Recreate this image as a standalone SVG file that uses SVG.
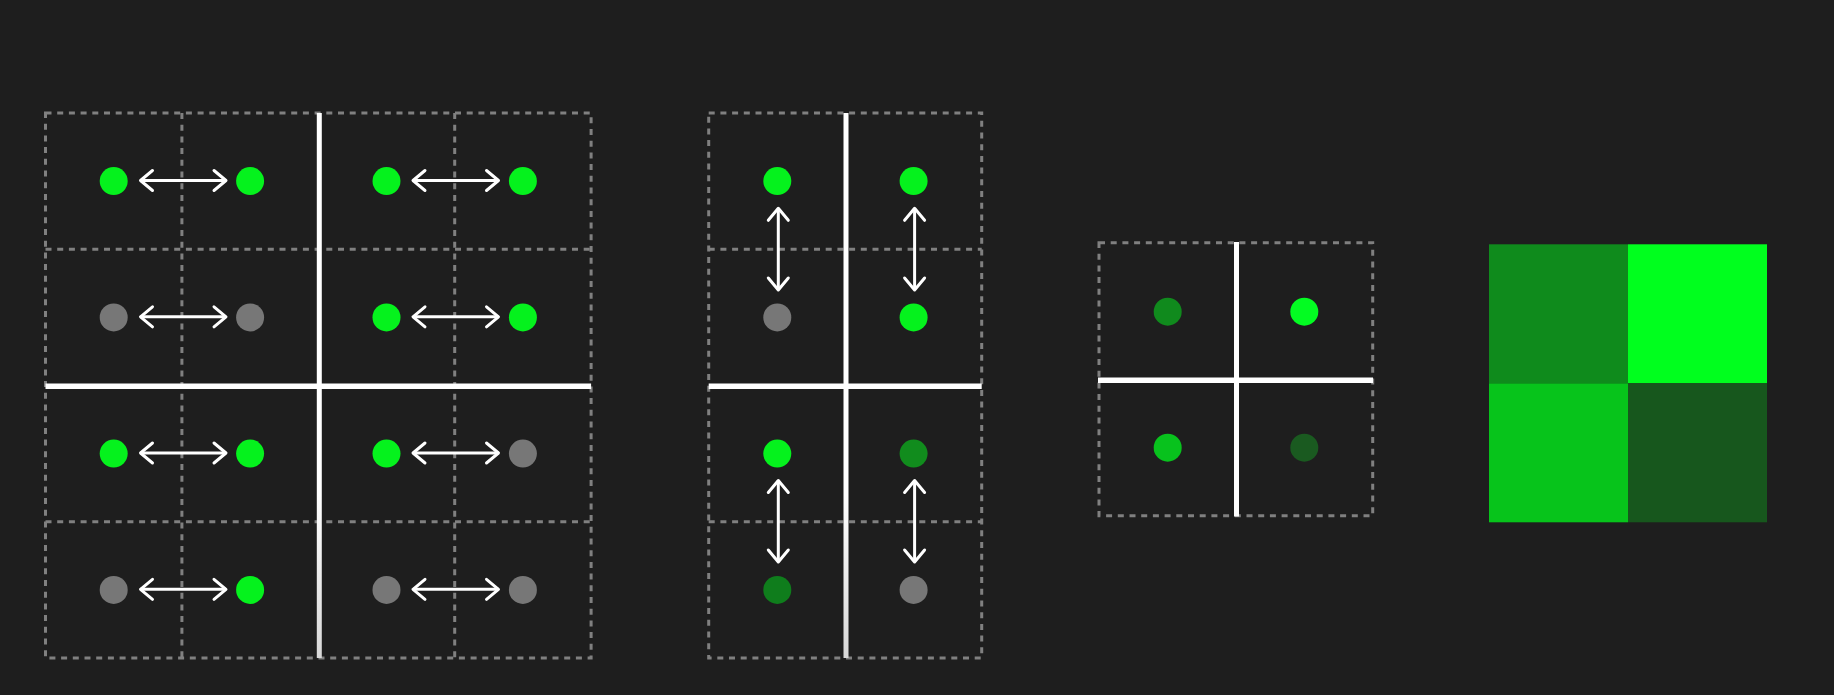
<svg xmlns="http://www.w3.org/2000/svg" width="1834" height="695" viewBox="0 0 1834 695">
  <defs>
    <style>
      .grid { fill: none; stroke: #808080; stroke-width: 3; stroke-dasharray: 6 5.7; }
      .wall { stroke: url(#wallGrad); stroke-width: 5; }
      .wall3 { stroke: #ffffff; stroke-width: 5; }
      .wallh { stroke: #ffffff; stroke-width: 5.5; }
      .arrow { stroke: #ffffff; stroke-width: 3; fill: none; marker-start: url(#chev); marker-end: url(#chev); }
      .g { fill: #05f21d; }
      .x { fill: #777777; }
      .m { fill: #118c1d; }
      .d { fill: #0f7d1c; }
    </style>
    <linearGradient id="wallGrad" gradientUnits="userSpaceOnUse" x1="0" y1="113" x2="0" y2="658">
      <stop offset="0" stop-color="#ffffff"/>
      <stop offset="0.7" stop-color="#ffffff"/>
      <stop offset="1" stop-color="#d8d8d8"/>
    </linearGradient>
    <marker id="chev" viewBox="-15 -13 18 26" refX="0" refY="0" markerWidth="18" markerHeight="26" markerUnits="userSpaceOnUse" orient="auto-start-reverse">
      <path d="M-12,-10 L0,0 L-12,10" fill="none" stroke="#ffffff" stroke-width="3" stroke-linecap="round" stroke-linejoin="round"/>
    </marker>
  </defs>
  <rect x="0" y="0" width="1834" height="695" fill="#1e1e1e"/>

  <!-- Panel 1: 4x4 grid -->
  <g id="panel-4x4">
    <rect class="grid" x="45.5" y="113" width="545.6" height="545"/>
    <line class="grid" x1="181.9" y1="113" x2="181.9" y2="658"/>
    <line class="grid" x1="454.7" y1="113" x2="454.7" y2="658"/>
    <line class="grid" x1="45.5" y1="249.3" x2="591.1" y2="249.3"/>
    <line class="grid" x1="45.5" y1="521.8" x2="591.1" y2="521.8"/>
    <line class="wall" x1="319.3" y1="113" x2="319.3" y2="658"/>
    <line class="wallh" x1="45.5" y1="386.3" x2="591.1" y2="386.3"/>
    <g id="p1-dots">
      <circle id="p1-r1c1" class="g" cx="113.7" cy="181.1" r="14"/>
      <circle id="p1-r1c2" class="g" cx="250.1" cy="181.1" r="14"/>
      <circle id="p1-r1c3" class="g" cx="386.5" cy="181.1" r="14"/>
      <circle id="p1-r1c4" class="g" cx="522.9" cy="181.1" r="14"/>
      <circle id="p1-r2c1" class="x" cx="113.7" cy="317.4" r="14"/>
      <circle id="p1-r2c2" class="x" cx="250.1" cy="317.4" r="14"/>
      <circle id="p1-r2c3" class="g" cx="386.5" cy="317.4" r="14"/>
      <circle id="p1-r2c4" class="g" cx="522.9" cy="317.4" r="14"/>
      <circle id="p1-r3c1" class="g" cx="113.7" cy="453.6" r="14"/>
      <circle id="p1-r3c2" class="g" cx="250.1" cy="453.6" r="14"/>
      <circle id="p1-r3c3" class="g" cx="386.5" cy="453.6" r="14"/>
      <circle id="p1-r3c4" class="x" cx="522.9" cy="453.6" r="14"/>
      <circle id="p1-r4c1" class="x" cx="113.7" cy="589.9" r="14"/>
      <circle id="p1-r4c2" class="g" cx="250.1" cy="589.9" r="14"/>
      <circle id="p1-r4c3" class="x" cx="386.5" cy="589.9" r="14"/>
      <circle id="p1-r4c4" class="x" cx="522.9" cy="589.9" r="14"/>
    </g>
  </g>

  <!-- Panel 2: 2 columns x 4 rows -->
  <g id="panel-2x4">
    <rect class="grid" x="708.7" y="113" width="273" height="545"/>
    <line class="grid" x1="708.7" y1="249.3" x2="981.7" y2="249.3"/>
    <line class="grid" x1="708.7" y1="521.8" x2="981.7" y2="521.8"/>
    <line class="wall" x1="846" y1="113" x2="846" y2="658"/>
    <line class="wallh" x1="708.7" y1="386.3" x2="981.7" y2="386.3"/>
    <g id="p2-dots">
      <circle id="p2-r1c1" class="g" cx="777.3" cy="181.1" r="14"/>
      <circle id="p2-r1c2" class="g" cx="913.6" cy="181.1" r="14"/>
      <circle id="p2-r2c1" class="x" cx="777.3" cy="317.4" r="14"/>
      <circle id="p2-r2c2" class="g" cx="913.6" cy="317.4" r="14"/>
      <circle id="p2-r3c1" class="g" cx="777.3" cy="453.6" r="14"/>
      <circle id="p2-r3c2" class="m" cx="913.6" cy="453.6" r="14"/>
      <circle id="p2-r4c1" class="d" cx="777.3" cy="589.9" r="14"/>
      <circle id="p2-r4c2" class="x" cx="913.6" cy="589.9" r="14"/>
    </g>
  </g>

  <!-- Panel 3: 2x2 grid -->
  <g id="panel-2x2">
    <rect class="grid" x="1099" y="242.7" width="273.7" height="273"/>
    <line class="wall3" x1="1236.5" y1="242" x2="1236.5" y2="516.5"/>
    <line class="wallh" x1="1098" y1="380.3" x2="1373" y2="380.3"/>
    <g id="p3-dots">
      <circle id="p3-r1c1" fill="#108a1d" cx="1167.7" cy="311.7" r="14"/>
      <circle id="p3-r1c2" fill="#03fc22" cx="1304.3" cy="311.7" r="14"/>
      <circle id="p3-r2c1" fill="#08c21d" cx="1167.7" cy="447.7" r="14"/>
      <circle id="p3-r2c2" fill="#1a5a20" cx="1304.3" cy="447.7" r="14"/>
    </g>
  </g>

  <!-- Panel 4: coloured 2x2 block -->
  <g id="panel-colors">
    <rect id="c-tl" x="1489" y="244.3" width="139" height="139" fill="#0f8b1c"/>
    <rect id="c-tr" x="1628" y="244.3" width="139" height="139" fill="#00ff1e"/>
    <rect id="c-bl" x="1489" y="383.3" width="139" height="139" fill="#07c41b"/>
    <rect id="c-br" x="1628" y="383.3" width="139" height="139" fill="#17571d"/>
  </g>

  <!-- Connectors -->
  <g id="connectors">
    <line class="arrow" x1="140.5" y1="180.5" x2="226" y2="180.5"/>
    <line class="arrow" x1="413" y1="180.5" x2="498.5" y2="180.5"/>
    <line class="arrow" x1="140.5" y1="316.8" x2="226" y2="316.8"/>
    <line class="arrow" x1="413" y1="316.8" x2="498.5" y2="316.8"/>
    <line class="arrow" x1="140.5" y1="453" x2="226" y2="453"/>
    <line class="arrow" x1="413" y1="453" x2="498.5" y2="453"/>
    <line class="arrow" x1="140.5" y1="589.3" x2="226" y2="589.3"/>
    <line class="arrow" x1="413" y1="589.3" x2="498.5" y2="589.3"/>
    <line class="arrow" x1="778.3" y1="208.3" x2="778.3" y2="290"/>
    <line class="arrow" x1="914.6" y1="208.3" x2="914.6" y2="290"/>
    <line class="arrow" x1="778.3" y1="480.5" x2="778.3" y2="562"/>
    <line class="arrow" x1="914.6" y1="480.5" x2="914.6" y2="562"/>
  </g>
</svg>
